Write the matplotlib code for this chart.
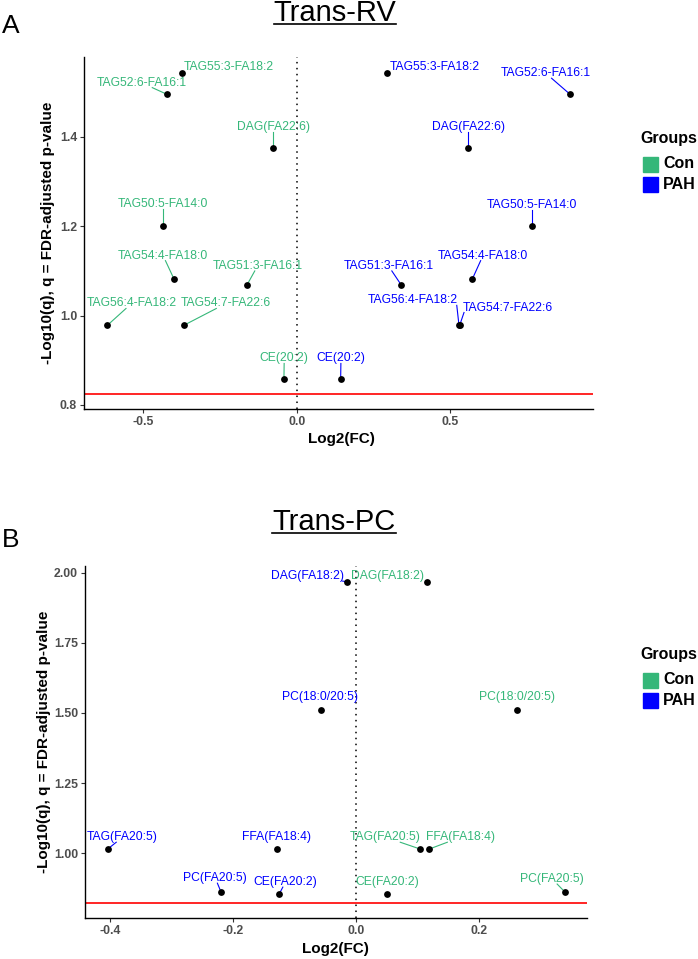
import numpy as np
import matplotlib
matplotlib.use("Agg")
import matplotlib.pyplot as plt
from matplotlib.patches import Rectangle
from matplotlib.lines import Line2D
from matplotlib.ticker import FormatStrFormatter

plt.rcParams['font.family'] = ['Liberation Sans', 'DejaVu Sans']
plt.rcParams['axes.unicode_minus'] = False

W, H = 698, 959

groups = ["Con", "PAH"]
group_colors = ["#35B779", "#0000FF"]
q_cutoff = 0.15

# ---- panel A: Trans-RV ----
rv_lipids = ["TAG55:3-FA18:2", "TAG52:6-FA16:1", "DAG(FA22:6)", "TAG50:5-FA14:0",
             "TAG54:4-FA18:0", "TAG51:3-FA16:1", "TAG56:4-FA18:2", "TAG54:7-FA22:6",
             "CE(20:2)"]
rv_logq = [1.543, 1.495, 1.375, 1.200, 1.081, 1.069, 0.978, 0.978, 0.857]
rv_con_fc = [-0.376, -0.424, -0.076, -0.437, -0.400, -0.162, -0.618, -0.369, -0.042]
rv_pah_fc = [0.295, 0.891, 0.559, 0.766, 0.572, 0.340, 0.529, 0.531, 0.143]

# ---- panel B: Trans-PC ----
pc_lipids = ["DAG(FA18:2)", "PC(18:0/20:5)", "TAG(FA20:5)", "FFA(FA18:4)",
             "PC(FA20:5)", "CE(FA20:2)"]
pc_logq = [1.968, 1.512, 1.015, 1.015, 0.863, 0.855]
pc_con_fc = [0.115, 0.261, 0.104, 0.119, 0.339, 0.050]
pc_pah_fc = [-0.015, -0.057, -0.404, -0.129, -0.220, -0.125]

# label placement (repelled positions, data units)
# segment: "" none, "c" towards label centre, "n" to nearest box edge
rv_con_lab = [(-0.221, 1.557), (-0.507, 1.521), (-0.076, 1.421), (-0.437, 1.249),
              (-0.436, 1.134), (-0.128, 1.111), (-0.539, 1.027), (-0.231, 1.027),
              (-0.041, 0.904)]
rv_pah_lab = [(0.451, 1.557), (0.812, 1.542), (0.559, 1.421), (0.766, 1.247),
              (0.607, 1.134), (0.299, 1.111), (0.378, 1.034), (0.689, 1.018),
              (0.144, 0.904)]
rv_con_seg = ["", "c", "c", "c", "c", "c", "c", "c", "c"]
rv_pah_seg = ["", "c", "c", "c", "c", "c", "n", "n", "c"]

pc_con_lab = [(0.051, 1.988), (0.261, 1.558), (0.048, 1.057), (0.170, 1.057),
              (0.319, 0.908), (0.050, 0.899)]
pc_pah_lab = [(-0.079, 1.988), (-0.058, 1.558), (-0.380, 1.057), (-0.129, 1.057),
              (-0.229, 0.911), (-0.115, 0.897)]
pc_con_seg = ["", "", "c", "c", "c", ""]
pc_pah_seg = ["c", "", "c", "", "c", "c"]


def fx(px):
    return px / W


def fy(py):
    return 1 - py / H


fig = plt.figure(figsize=(W / 100, H / 100), dpi=100)
pending = []


def draw_panel(box, lipids, logq, con_fc, pah_fc, con_lab, pah_lab, con_seg, pah_seg,
               xlim, ylim, xticks, yticks, yfmt):
    x0, y0, x1, y1 = box
    ax = fig.add_axes([fx(x0), fy(y1), fx(x1) - fx(x0), fy(y0) - fy(y1)])
    ax.set_xlim(xlim)
    ax.set_ylim(ylim)
    for s in ["top", "right"]:
        ax.spines[s].set_visible(False)
    for s in ["left", "bottom"]:
        ax.spines[s].set_linewidth(1.0)
    ax.set_xticks(xticks)
    ax.set_yticks(yticks)
    ax.xaxis.set_major_formatter(FormatStrFormatter("%.1f"))
    ax.yaxis.set_major_formatter(FormatStrFormatter(yfmt))
    ax.tick_params(length=3, width=0.8, color="#333333", labelsize=8.8,
                   labelcolor="#4D4D4D", pad=2)
    for lab in ax.get_xticklabels() + ax.get_yticklabels():
        lab.set_fontweight("bold")

    ax.axhline(-np.log10(q_cutoff), color="red", lw=1.2, zorder=2)
    ax.axvline(0, color="black", lw=1.1, ls=(0, (1, 2.9)), zorder=2)

    for fc, lab, seg, col in [(con_fc, con_lab, con_seg, group_colors[0]),
                              (pah_fc, pah_lab, pah_seg, group_colors[1])]:
        ax.scatter(fc, logq, s=24, color="black", zorder=4, linewidths=0)
        for i, name in enumerate(lipids):
            t = ax.text(lab[i][0], lab[i][1], name, color=col, fontsize=8.7,
                        ha="center", va="center", zorder=5)
            if seg[i]:
                pending.append((ax, t, fc[i], logq[i], col, seg[i]))
    return ax


axA = draw_panel((84, 56.7, 593, 409), rv_lipids, rv_logq, rv_con_fc, rv_pah_fc,
                 rv_con_lab, rv_pah_lab, rv_con_seg, rv_pah_seg,
                 (-0.694, 0.966), (0.791, 1.579), [-0.5, 0.0, 0.5],
                 [0.8, 1.0, 1.2, 1.4], "%.1f")
axB = draw_panel((85, 566, 586.7, 918.3), pc_lipids, pc_logq, pc_con_fc, pc_pah_fc,
                 pc_con_lab, pc_pah_lab, pc_con_seg, pc_pah_seg,
                 (-0.441, 0.375), (0.768, 2.024), [-0.4, -0.2, 0.0, 0.2],
                 [1.00, 1.25, 1.50, 1.75, 2.00], "%.2f")

# axis labels
ylab = "-Log10(q), q = FDR-adjusted p-value"
fig.text(fx(48.5), fy(233), ylab, rotation=90, ha="center", va="center",
         fontsize=11, fontweight="bold")
fig.text(fx(44), fy(742), ylab, rotation=90, ha="center", va="center",
         fontsize=11, fontweight="bold")
fig.text(fx(341), fy(439.5), "Log2(FC)", ha="center", va="center",
         fontsize=11, fontweight="bold")
fig.text(fx(335), fy(948.5), "Log2(FC)", ha="center", va="center",
         fontsize=11, fontweight="bold")

# panel letters and underlined titles
fig.text(fx(2), fy(33), "A", ha="left", va="baseline", fontsize=19)
fig.text(fx(2), fy(547), "B", ha="left", va="baseline", fontsize=19)
titles = [fig.text(fx(335), fy(21), "Trans-RV", ha="center", va="baseline", fontsize=21),
          fig.text(fx(334), fy(529.5), "Trans-PC", ha="center", va="baseline", fontsize=21)]
underline_y = [24, 533]

# legends
for off in [0, 516]:
    fig.text(fx(640), fy(138 + off), "Groups", ha="left", va="center",
             fontsize=11.5, fontweight="bold")
    for k, (g, c) in enumerate(zip(groups, group_colors)):
        top = 156.5 + off + k * 20.5
        fig.patches.append(Rectangle((fx(643), fy(top + 15)), fx(15), 15 / H,
                                     transform=fig.transFigure, color=c))
        fig.text(fx(663), fy(top + 7.5), g, ha="left", va="center",
                 fontsize=11.5, fontweight="bold")

fig.canvas.draw()
renderer = fig.canvas.get_renderer()

for t, uy in zip(titles, underline_y):
    bb = t.get_window_extent(renderer)
    fig.lines.append(Line2D([bb.x0 / W, bb.x1 / W], [fy(uy), fy(uy)],
                            transform=fig.transFigure, color="black", lw=1.2))


def clip_t(p, c, lo, hi):
    if p < lo:
        return (lo - p) / (c - p)
    if p > hi:
        return (hi - p) / (c - p)
    return 0.0


# segments from each point to its label box
for ax, t, px, py, col, mode in pending:
    bb = t.get_window_extent(renderer).padded(-1)
    dx, dy = ax.transData.transform((px, py))
    if mode == "n":
        ex = min(max(dx, bb.x0), bb.x1)
        ey = min(max(dy, bb.y0), bb.y1)
    else:
        cx, cy = (bb.x0 + bb.x1) / 2, (bb.y0 + bb.y1) / 2
        k = max(clip_t(dx, cx, bb.x0, bb.x1), clip_t(dy, cy, bb.y0, bb.y1))
        ex, ey = dx + k * (cx - dx), dy + k * (cy - dy)
    inv = ax.transData.inverted()
    (ax0, ay0), (ax1, ay1) = inv.transform([(dx, dy), (ex, ey)])
    ax.plot([ax0, ax1], [ay0, ay1], color=col, lw=0.8, zorder=3, clip_on=False)

fig.savefig("out.png", dpi=100)
